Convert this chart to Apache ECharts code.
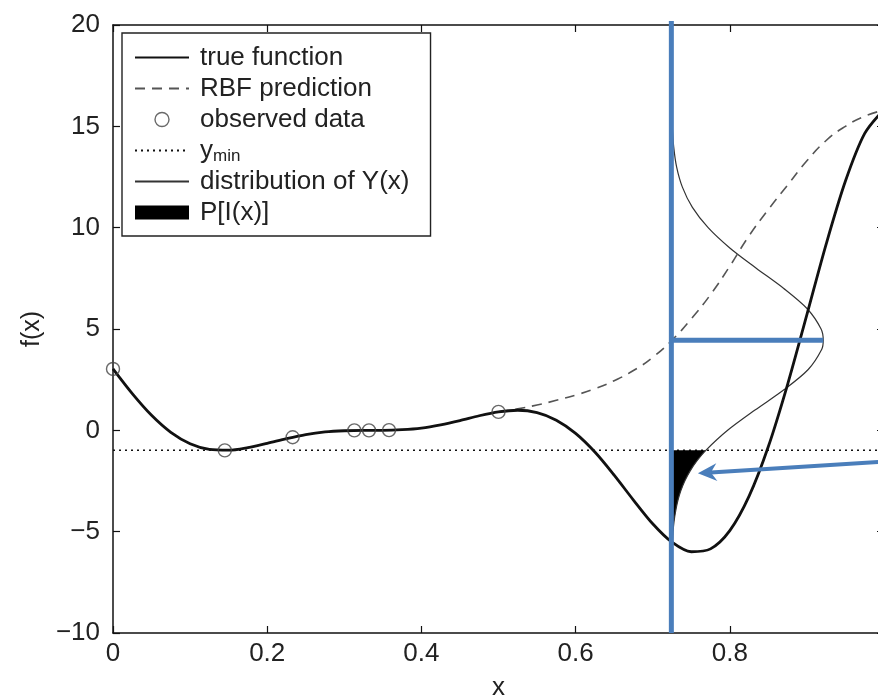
<!DOCTYPE html>
<html>
<head>
<meta charset="utf-8">
<script src="https://cdn.jsdelivr.net/npm/echarts@6/dist/echarts.min.js"></script>
<style>
  html, body { margin: 0; padding: 0; background: #fff; }
  #chart { width: 878px; height: 699px; }
</style>
</head>
<body>
<div id="chart"></div>
<script>
// true function, sampled along x
const trueX = [0, 0.025, 0.05, 0.075, 0.1, 0.125, 0.15, 0.175, 0.2, 0.225, 0.25, 0.275, 0.3, 0.325, 0.35, 0.375,
  0.4, 0.425, 0.45, 0.475, 0.5, 0.525, 0.55, 0.575, 0.6, 0.625, 0.65, 0.675, 0.7, 0.725, 0.75, 0.775,
  0.8, 0.825, 0.85, 0.875, 0.9, 0.925, 0.95, 0.975, 1]
const trueY = [3.03, 1.81, 0.74, -0.10, -0.66, -0.94, -0.98, -0.85, -0.64, -0.41, -0.21, -0.08, -0.02, 0.00, 0.00, 0.03,
  0.11, 0.27, 0.48, 0.72, 0.91, 0.99, 0.87, 0.50, -0.15, -1.07, -2.21, -3.44, -4.61, -5.52, -5.99, -5.85,
  -4.95, -3.25, -0.80, 2.27, 5.71, 9.19, 12.30, 14.65, 15.83]

// RBF prediction (departs from the true function after x = 0.5)
const rbfX = [0.5, 0.525, 0.55, 0.575, 0.6, 0.625, 0.65, 0.675, 0.7, 0.725, 0.75, 0.775, 0.8, 0.825, 0.85, 0.875, 0.9, 0.925, 0.95, 0.975, 1]
const rbfY = [0.91, 1.06, 1.25, 1.48, 1.74, 2.05, 2.45, 2.95, 3.6, 4.45, 5.5, 6.7, 8.1, 9.6, 10.9, 12.1, 13.3, 14.3, 15.0, 15.5, 15.8]

// observed data
const obsX = [0, 0.145, 0.233, 0.313, 0.332, 0.358, 0.5]
const obsY = [3.03, -0.99, -0.34, 0.00, 0.00, 0.01, 0.91]

const yMin = -0.986

// distribution of Y(x) at the candidate point, drawn sideways
const xNew = 0.7242
const yPred = 4.44
const distV = [-7, -6, -5, -4.5, -4, -3.5, -3, -2.5, -2, -1.5, -0.986, 0, 1, 2, 3, 4, 4.44,
  5, 6, 7, 8, 9, 10, 11, 12, 13, 14, 15, 16]
const distX = [0.7245, 0.7250, 0.7264, 0.7277, 0.7297, 0.7324, 0.7363, 0.7416, 0.7486, 0.7575, 0.7689, 0.7972, 0.8327, 0.8702, 0.9017, 0.9193, 0.9212,
  0.9184, 0.9004, 0.8700, 0.8343, 0.8000, 0.7719, 0.7515, 0.7385, 0.7310, 0.7272, 0.7254, 0.7246]

// blue pointer arrow (start, tip)
const arrowFrom = [1.0, -1.55]
const arrowTo = [0.7586, -2.12]

// axes
const xTicks = [0, 0.2, 0.4, 0.6, 0.8, 1]
const yTicks = [-10, -5, 0, 5, 10, 15, 20]

const FONT = '"Liberation Sans", Arial, Helvetica, sans-serif'
const BLUE = '#4a7ebb'

const chart = echarts.init(document.getElementById('chart'))

const pair = (xs, ys) => xs.map((x, i) => [x, ys[i]])

// polygon for P[I(x)]: area of the distribution below y_min
const fillPts = [[xNew, yMin]]
distV.forEach((v, i) => { if (v <= yMin) fillPts.push([distX[i], v]) })
fillPts.sort((a, b) => b[1] - a[1])
fillPts.push([xNew, distV[0]])

const tickLabel = v => String(v).replace('-', '\u2212')

const frameLine = { onZero: false, lineStyle: { color: '#111', width: 1.5 } }
const frameTick = { show: true, inside: true, length: 7, lineStyle: { color: '#111', width: 1.2 } }
const noSymbol = { opacity: 0 }

const option = {
  animation: false,
  textStyle: { fontFamily: FONT },
  grid: { left: 113, top: 25, width: 771, height: 608, outerBoundsMode: 'none', containLabel: false },
  xAxis: [
    {
      type: 'value', min: xTicks[0], max: xTicks[xTicks.length - 1], interval: 0.2,
      name: 'x', nameLocation: 'middle', nameGap: 42,
      nameTextStyle: { fontSize: 26, color: '#222', fontFamily: FONT },
      axisLine: frameLine,
      axisTick: frameTick,
      axisLabel: { fontSize: 26, color: '#222', margin: 8, fontFamily: FONT, formatter: tickLabel },
      splitLine: { show: false }
    },
    {
      type: 'value', position: 'top', min: 0, max: 1, interval: 0.2,
      axisLine: frameLine,
      axisTick: frameTick,
      axisLabel: { show: false },
      splitLine: { show: false }
    }
  ],
  yAxis: [
    {
      type: 'value', min: yTicks[0], max: yTicks[yTicks.length - 1], interval: 5,
      name: 'f(x)', nameLocation: 'middle', nameRotate: 90, nameGap: 68,
      nameTextStyle: { fontSize: 25, color: '#222', fontFamily: FONT },
      axisLine: { show: true, ...frameLine },
      axisTick: frameTick,
      axisLabel: { fontSize: 26, color: '#222', margin: 13, fontFamily: FONT, formatter: tickLabel },
      splitLine: { show: false }
    },
    {
      type: 'value', position: 'right', min: -10, max: 20, interval: 5,
      axisLine: { show: true, ...frameLine },
      axisTick: frameTick,
      axisLabel: { show: false },
      splitLine: { show: false }
    }
  ],
  legend: {
    orient: 'vertical', left: 122, top: 33,
    padding: [10, 21, 9, 12],
    itemWidth: 54, itemHeight: 14, itemGap: 2,
    backgroundColor: '#fff', borderColor: '#222', borderWidth: 1.4,
    selectedMode: false,
    textStyle: {
      fontSize: 26, color: '#222', lineHeight: 29, fontFamily: FONT, padding: [0, 0, 0, 6],
      rich: {
        a: { fontSize: 26, color: '#222', fontFamily: FONT },
        b: { fontSize: 17, color: '#222', fontFamily: FONT, padding: [12, 0, 0, 0] }
      }
    },
    formatter: name => name === 'y_min' ? '{a|y}{b|min}' : name,
    data: [
      { name: 'true function', itemStyle: noSymbol },
      { name: 'RBF prediction', itemStyle: noSymbol },
      { name: 'observed data', icon: 'circle', itemStyle: { color: '#fff', borderColor: '#444', borderWidth: 1.4 } },
      { name: 'y_min', itemStyle: noSymbol },
      { name: 'distribution of Y(x)', itemStyle: noSymbol },
      { name: 'P[I(x)]', icon: 'rect', itemStyle: { color: '#000' } }
    ]
  },
  series: [
    {
      name: 'y_min', type: 'line', data: [[0, yMin], [1, yMin]],
      symbol: 'none', silent: true, color: '#111',
      lineStyle: { color: '#111', width: 1.5, type: [2, 4] }, z: 2
    },
    {
      name: 'P[I(x)]', type: 'custom', data: [0], silent: true,
      itemStyle: { color: '#000' },
      renderItem: (params, api) => ({
        type: 'polygon',
        shape: { points: fillPts.map(p => api.coord(p)) },
        style: { fill: '#000' }
      }),
      z: 3
    },
    {
      name: 'distribution of Y(x)', type: 'line', data: pair(distX, distV),
      symbol: 'none', smooth: 0.3, silent: true, color: '#333',
      lineStyle: { color: '#333', width: 1.2 }, z: 3
    },
    {
      name: 'RBF prediction', type: 'line', data: pair(rbfX, rbfY),
      symbol: 'none', smooth: true, silent: true, color: '#555',
      lineStyle: { color: '#555', width: 1.6, type: [10, 7] }, z: 3
    },
    {
      name: 'true function', type: 'line', data: pair(trueX, trueY),
      symbol: 'none', smooth: 0.3, silent: true, color: '#111',
      lineStyle: { color: '#111', width: 2.8 }, z: 4
    },
    {
      name: 'observed data', type: 'scatter', data: pair(obsX, obsY),
      symbol: 'circle', symbolSize: 13, silent: true,
      itemStyle: { color: 'rgba(255,255,255,0)', borderColor: '#444', borderWidth: 1.4 }, z: 5
    },
    {
      // blue annotations: vertical marker, predicted value, arrow
      type: 'custom', data: [0], silent: true, z: 10,
      renderItem: (params, api) => {
        const top = api.coord([xNew, 20.2])
        const bot = api.coord([xNew, -10])
        const mid = api.coord([xNew, yPred])
        const peak = api.coord([Math.max(...distX), yPred])
        const a0 = api.coord(arrowFrom)
        const tip = api.coord(arrowTo)
        const ang = Math.atan2(tip[1] - a0[1], tip[0] - a0[0])
        const c = Math.cos(ang), s = Math.sin(ang)
        const L = 19, W = 9, N = 13
        const wing1 = [tip[0] - L * c - W * s, tip[1] - L * s + W * c]
        const wing2 = [tip[0] - L * c + W * s, tip[1] - L * s - W * c]
        const notch = [tip[0] - N * c, tip[1] - N * s]
        return {
          type: 'group',
          children: [
            { type: 'line', shape: { x1: top[0], y1: top[1], x2: bot[0], y2: bot[1] }, style: { stroke: BLUE, lineWidth: 5 } },
            { type: 'line', shape: { x1: mid[0], y1: mid[1], x2: peak[0], y2: peak[1] }, style: { stroke: BLUE, lineWidth: 5 } },
            { type: 'line', shape: { x1: a0[0], y1: a0[1], x2: notch[0], y2: notch[1] }, style: { stroke: BLUE, lineWidth: 4 } },
            { type: 'polygon', shape: { points: [tip, wing1, notch, wing2] }, style: { fill: BLUE } }
          ]
        }
      }
    }
  ]
}

chart.setOption(option)
</script>
</body>
</html>
